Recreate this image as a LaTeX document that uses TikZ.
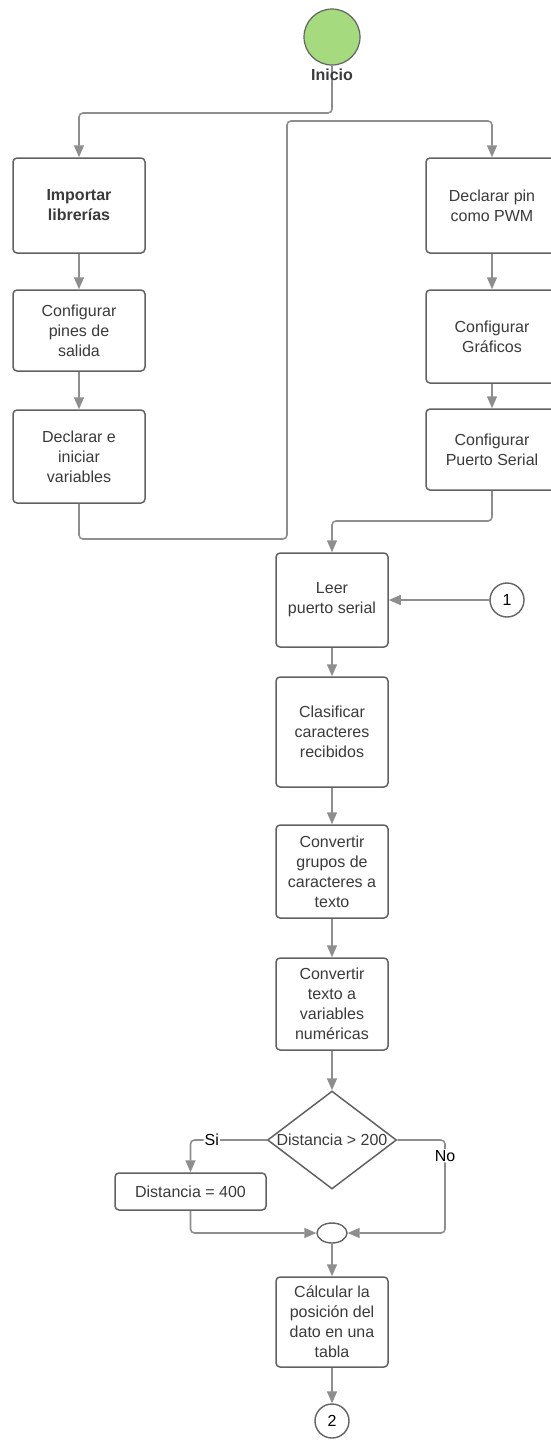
\documentclass[tikz,border=0pt]{standalone}
\usepackage{fontspec}
\setmainfont{Liberation Sans}
\usepackage{tikz}
\usetikzlibrary{shapes.geometric,arrows.meta}
\definecolor{linegray}{HTML}{8E8E8E}
\definecolor{boxgray}{HTML}{626262}
\definecolor{textgray}{HTML}{3A3A3A}
\definecolor{startgreen}{HTML}{A6DA7F}

\begin{document}
\begin{tikzpicture}[x=1pt,y=-1pt,
	every node/.style={font=\fontsize{16}{20}\selectfont,text=textgray},
	proc/.style={shape=rectangle,draw=boxgray,line width=1.5pt,rounded corners=4pt,align=center,minimum width=132pt,inner sep=0pt},
	flow/.style={draw,color=linegray,line width=1.6pt,rounded corners=4pt,-{Triangle[width=10pt,length=12pt]}},
	conn/.style={shape=circle,draw=boxgray,line width=1.4pt,minimum size=34pt,inner sep=0pt,text=black},
	label/.style={fill=white,inner sep=1pt,text=black}]
	\useasboundingbox (0,0) rectangle (550,1440);

	\node[shape=circle,draw=boxgray,fill=startgreen,line width=1.2pt,minimum size=56pt] (inicio) at (332,37) {};
	\node[proc,minimum height=95pt,font=\bfseries\fontsize{16}{20}\selectfont] (imp) at (79,205.5) {Importar\\librerías};
	\node[proc,minimum height=81pt] (pines) at (79,330.5) {Configurar\\pines de\\salida};
	\node[proc,minimum height=93pt] (vars) at (79,456.5) {Declarar e\\iniciar\\variables};
	\node[proc,minimum height=95pt] (pwm) at (492,205.5) {Declarar pin\\como PWM};
	\node[proc,minimum height=93pt] (graf) at (492,336.5) {Configurar\\Gráficos};
	\node[proc,minimum height=81pt] (serial) at (492,449.5) {Configurar\\Puerto Serial};
	\node[proc,minimum width=112pt,minimum height=94pt] (leer) at (332,600) {Leer\\puerto serial};
	\node[proc,minimum width=112pt,minimum height=110pt] (clas) at (332,732) {Clasificar\\caracteres\\recibidos};
	\node[proc,minimum width=112pt,minimum height=93pt] (grupos) at (332,871.5) {Convertir\\grupos de\\caracteres a\\texto};
	\node[proc,minimum width=112pt,minimum height=92pt] (numer) at (332,1004) {Convertir\\texto a\\variables\\numéricas};
	\node[shape=diamond,shape aspect=1.3,draw=boxgray,line width=1.5pt,minimum width=129pt,minimum height=98pt,inner sep=0pt] (dec) at (332,1140) {Distancia > 200};
	\node[proc,minimum width=151pt,minimum height=37pt] (dfour) at (190.5,1191.5) {Distancia = 400};
	\node[shape=ellipse,draw=boxgray,line width=1.4pt,minimum width=30pt,minimum height=20pt,inner sep=0pt] (merge) at (332,1233) {};
	\node[proc,minimum width=112pt,minimum height=90pt] (calc) at (332,1322) {Cálcular la\\posición del\\dato en una\\tabla};
	\node[conn] (c1) at (507,600) {1};
	\node[conn] (c2) at (332,1421) {2};

	\coordinate (j1) at (332,113);
	\coordinate (j2) at (79,539);
	\coordinate (j3) at (287,539);
	\coordinate (j4) at (287,121);
	\coordinate (j5) at (492,521);
	\coordinate (j6) at (445,1140);
	\coordinate (j7) at (445,1233);

	\draw[flow] (inicio.south) -- (j1) -| (imp.north);
	\node[font=\bfseries\fontsize{16}{20}\selectfont] (iniciotxt) at (332,75) {Inicio};
	\path[flow] (imp) edge (pines);
	\path[flow] (pines) edge (vars);
	\draw[flow] (vars.south) -- (j2) -- (j3) -- (j4) -| (pwm.north);
	\path[flow] (pwm) edge (graf);
	\path[flow] (graf) edge (serial);
	\draw[flow] (serial.south) -- (j5) -| (leer.north);
	\path[flow] (c1) edge (leer);
	\path[flow] (leer) edge (clas);
	\path[flow] (clas) edge (grupos);
	\path[flow] (grupos) edge (numer);
	\path[flow] (numer) edge (dec);
	\draw[flow] (dec.west) -| node[label,pos=0.36] {Si} (dfour.north);
	\draw[flow] (dec.east) -- (j6) -- node[label,pos=0.17] {No} (j7) -- (merge.east);
	\draw[flow] (dfour.south) |- (merge.west);
	\path[flow] (merge) edge (calc);
	\path[flow] (calc) edge (c2);
\end{tikzpicture}
\end{document}
